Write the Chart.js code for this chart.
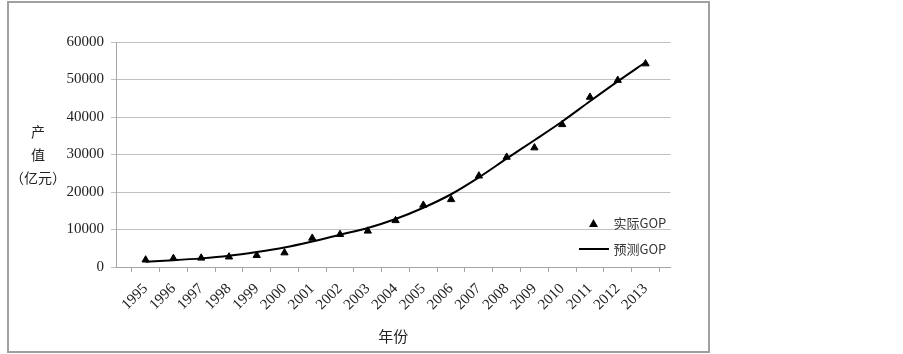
<!DOCTYPE html>
<html>
<head>
<meta charset="utf-8">
<script src="https://cdn.jsdelivr.net/npm/chart.js@4.4.1/dist/chart.umd.min.js"></script>
<style>
  html, body { margin: 0; padding: 0; background: #fff; }
  #wrap { position: relative; width: 903px; height: 354px; }
  #frame { position: absolute; left: 7px; top: 1px; width: 703px; height: 352px; box-sizing: border-box; border: 2px solid #a0a0a0; pointer-events: none; }
</style>
</head>
<body>
<div id="wrap"><canvas id="gop_chart"></canvas><div id="frame"></div></div>
<script>
var years = ['1995', '1996', '1997', '1998', '1999', '2000', '2001', '2002', '2003', '2004',
             '2005', '2006', '2007', '2008', '2009', '2010', '2011', '2012', '2013'];
var actual_gop = [1900, 2300, 2400, 2700, 3100, 3800, 7700, 8700, 9600, 12400,
                  16500, 18000, 24300, 29300, 31800, 38000, 45300, 49800, 54200];
var predicted_gop = [1400, 1800, 2300, 3000, 4000, 5200, 6800, 8600, 10400, 12800,
                     15800, 19400, 23900, 28900, 33800, 38800, 44200, 49500, 54600];
var y_ticks = [0, 10000, 20000, 30000, 40000, 50000, 60000];
var y_title = ['产', '值', '（亿元）'];

// small icons for the legend (triangle + long line)
function legend_icon(w, h, draw) {
    var c = document.createElement('canvas');
    c.width = w; c.height = h;
    var ctx = c.getContext('2d');
    ctx.fillStyle = '#000';
    draw(ctx, w, h);
    return c;
}
var tri_icon = legend_icon(9, 8, function (ctx, w, h) {
    ctx.beginPath(); ctx.moveTo(w / 2, 0); ctx.lineTo(w, h); ctx.lineTo(0, h); ctx.closePath(); ctx.fill();
});
var line_icon = legend_icon(30, 2, function (ctx, w, h) { ctx.fillRect(0, 0, w, h); });

// move the legend into the lower right of the plot
var legend_spot = {
    id: 'legend_spot',
    afterLayout: function (chart) {
        var lg = chart.legend;
        lg.left = 567; lg.top = 203.5;
        lg.right = lg.left + lg.width; lg.bottom = 354;
    }
};

var serif = { family: "'Liberation Serif', 'Times New Roman', serif", size: 15 };
var cjk = "'Noto Sans CJK SC', sans-serif";

var ctx = document.getElementById('gop_chart');
var myChart = new Chart(ctx, {
    type: 'line',
    data: {
        datasets: [{
            label: '实际GOP',
            data: actual_gop.map(function (v, i) { return { x: i, y: v }; }),
            showLine: false,
            pointStyle: 'triangle',
            pointRadius: 4.2,
            pointBorderWidth: 1,
            backgroundColor: '#000',
            borderColor: '#000'
        }, {
            label: '预测GOP',
            data: predicted_gop.map(function (v, i) { return { x: i, y: v }; }),
            borderColor: '#000',
            backgroundColor: '#000',
            borderWidth: 2,
            pointRadius: 0,
            cubicInterpolationMode: 'monotone',
            fill: false
        }]
    },
    options: {
        responsive: true,
        maintainAspectRatio: false,
        animation: false,
        layout: { padding: { left: 8, top: 42, right: 232.5, bottom: 5 } },
        plugins: {
            tooltip: { enabled: false },
            legend: {
                position: 'chartArea',
                align: 'start',
                labels: {
                    usePointStyle: true,
                    pointStyleWidth: 27,
                    padding: 13,
                    color: '#333',
                    font: { family: cjk, size: 13 },
                    generateLabels: function (chart) {
                        var items = Chart.defaults.plugins.legend.labels.generateLabels(chart);
                        items[0].pointStyle = tri_icon;
                        items[1].pointStyle = line_icon;
                        return items;
                    }
                }
            }
        },
        scales: {
            x: {
                type: 'linear',
                min: -1.067,
                max: 18.9,
                afterBuildTicks: function (scale) {
                    scale.ticks = years.map(function (_, i) { return { value: i }; });
                },
                afterFit: function (scale) { scale.height = 82; },
                grid: { offset: true, drawOnChartArea: false, tickLength: 5, color: '#a6a6a6' },
                border: { color: '#a6a6a6' },
                ticks: {
                    autoSkip: false,
                    minRotation: 45,
                    maxRotation: 45,
                    padding: 8,
                    color: '#222',
                    font: serif,
                    callback: function (v, i) { return years[i]; }
                },
                title: {
                    display: true,
                    text: '年份',
                    color: '#222',
                    font: { family: cjk, size: 15 },
                    padding: { top: 0, bottom: 4 }
                }
            },
            y: {
                min: 0,
                max: 60000,
                weight: 0,
                afterBuildTicks: function (scale) {
                    scale.ticks = y_ticks.map(function (v) { return { value: v }; });
                },
                afterFit: function (scale) { scale.width = 52; },
                grid: { color: '#c0c0c0', tickLength: 5 },
                border: { color: '#a6a6a6' },
                ticks: {
                    padding: 7,
                    color: '#222',
                    font: serif,
                    callback: function (v) { return String(v); }
                }
            },
            y_label: {
                position: 'left',
                min: 0,
                max: 60000,
                weight: 1,
                afterBuildTicks: function (scale) { scale.ticks = [{ value: 30000 }]; },
                afterFit: function (scale) { scale.width = 56; },
                grid: { display: false },
                border: { display: false },
                ticks: {
                    crossAlign: 'center',
                    padding: -10,
                    color: '#222',
                    font: { family: cjk, size: 14, lineHeight: 1.65 },
                    callback: function () { return y_title; }
                }
            }
        }
    },
    plugins: [legend_spot]
});
</script>
</body>
</html>
